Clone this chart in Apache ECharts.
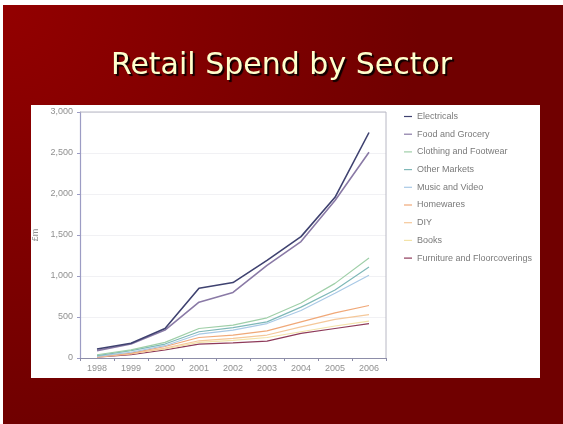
<!DOCTYPE html>
<html>
<head>
<meta charset="utf-8">
<script src="https://cdn.jsdelivr.net/npm/echarts@6/dist/echarts.min.js"></script>
<style>
  html, body { margin: 0; padding: 0; background: #ffffff; }
  #chart { width: 563px; height: 424px; }
</style>
</head>
<body>
<div id="chart"></div>
<script>
// Online retail spend by sector, £m
const years = ['1998', '1999', '2000', '2001', '2002', '2003', '2004', '2005', '2006'];
const yTicks = [0, 500, 1000, 1500, 2000, 2500, 3000];

const electricals = [110, 180, 360, 850, 920, 1190, 1480, 1960, 2750];
const foodGrocery = [90, 170, 340, 680, 800, 1130, 1420, 1920, 2510];
const clothingFootwear = [40, 100, 190, 360, 400, 490, 670, 910, 1220];
const otherMarkets = [30, 90, 170, 320, 370, 440, 620, 830, 1110];
const musicVideo = [20, 70, 150, 290, 340, 420, 580, 790, 1010];
const homewares = [15, 60, 140, 250, 280, 330, 440, 550, 640];
const diy = [10, 50, 120, 210, 240, 280, 380, 470, 530];
const books = [20, 55, 110, 190, 215, 250, 320, 390, 450];
const furniture = [10, 40, 100, 170, 185, 205, 300, 360, 420];

const sectorNames = ['Electricals', 'Food and Grocery', 'Clothing and Footwear', 'Other Markets',
  'Music and Video', 'Homewares', 'DIY', 'Books', 'Furniture and Floorcoverings'];
const sectorValues = [electricals, foodGrocery, clothingFootwear, otherMarkets,
  musicVideo, homewares, diy, books, furniture];
const sectorColors = ['#3f4270', '#8a7aa6', '#9fcfa8', '#7fb8b8', '#a9c9e6',
  '#f0a878', '#f5c89a', '#f3e3a8', '#8e3a5a'];
const sectorWidths = [1.6, 1.6, 1.2, 1.2, 1.2, 1.2, 1.2, 1.2, 1.2];

const chart = echarts.init(document.getElementById('chart'), null, { renderer: 'canvas' });

const series = sectorNames.map((name, i) => ({
  name: name,
  type: 'line',
  data: sectorValues[i],
  symbol: 'none',
  z: 10 - i,
  lineStyle: { color: sectorColors[i], width: sectorWidths[i] },
  itemStyle: { color: sectorColors[i] }
}));

const smallText = { color: '#909090', fontSize: 9, fontFamily: 'Liberation Sans' };

chart.setOption({
  backgroundColor: '#ffffff',
  animation: false,
  graphic: [
    {
      type: 'rect', z: -20, silent: true,
      shape: { x: 3, y: 5, width: 560, height: 419 },
      style: {
        fill: new echarts.graphic.RadialGradient(0, 0, 1.05, [
          { offset: 0, color: '#930000' },
          { offset: 0.95, color: '#700000' },
          { offset: 1, color: '#700000' }
        ])
      }
    },
    {
      type: 'rect', z: -10, silent: true,
      shape: { x: 31, y: 105, width: 509, height: 273 },
      style: { fill: '#ffffff' }
    },
    {
      type: 'text', z: 5, silent: true,
      left: 'center', top: 51,
      style: {
        text: 'Retail Spend by Sector',
        font: '30px "DejaVu Sans"',
        fill: '#ffffcc',
        textShadowColor: 'rgba(0,0,0,0.9)',
        textShadowOffsetX: 2,
        textShadowOffsetY: 2,
        textShadowBlur: 1
      }
    },
    {
      // plot frame, top and right edges
      type: 'polyline', z: 3, silent: true,
      shape: { points: [[80, 112], [386, 112], [386, 358]] },
      style: { stroke: '#b8b8c4', lineWidth: 1, fill: null }
    }
  ],
  grid: { left: 80, right: 177, top: 112, bottom: 66 },
  legend: {
    orient: 'vertical',
    left: 399, top: 107,
    icon: 'rect',
    itemWidth: 8, itemHeight: 1.2,
    itemGap: 8.7,
    textStyle: { color: '#7a7a7a', fontSize: 9, fontFamily: 'Liberation Sans' },
    data: sectorNames
  },
  xAxis: {
    type: 'category',
    data: years,
    boundaryGap: true,
    axisLine: { lineStyle: { color: '#8d8da8', width: 1 } },
    axisTick: { show: true, length: 3, lineStyle: { color: '#8d8da8' } },
    axisLabel: Object.assign({ margin: 6 }, smallText)
  },
  yAxis: {
    type: 'value',
    min: 0, max: 3000, interval: 500,
    name: '£m',
    nameLocation: 'middle',
    nameRotate: 90,
    nameGap: 39,
    nameTextStyle: smallText,
    axisLine: { show: true, lineStyle: { color: '#9c9cc4', width: 1.2 } },
    axisTick: { show: true, length: 3, lineStyle: { color: '#9c9cc4' } },
    splitLine: { show: true, lineStyle: { color: '#f1f1f4', width: 1 } },
    axisLabel: Object.assign({
      margin: 7,
      formatter: v => (yTicks.indexOf(v) >= 0 ? v.toLocaleString('en-GB') : '')
    }, smallText)
  },
  series: series
});
</script>
</body>
</html>
